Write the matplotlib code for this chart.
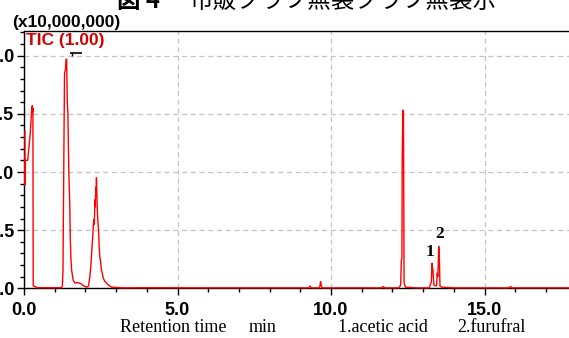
import matplotlib.pyplot as plt
from matplotlib.ticker import MultipleLocator, FixedLocator

# chromatogram trace (time in min, intensity in x10,000,000)
time_min = [0.03, 0.03, 0.035, 0.12, 0.20, 0.25, 0.27, 0.28, 0.29, 0.30, 0.45,
            0.80, 1.22, 1.25, 1.27, 1.28, 1.30, 1.32, 1.35, 1.37, 1.39, 1.41,
            1.43, 1.46, 1.49, 1.51, 1.53, 1.55, 1.60, 1.66, 1.75, 1.85, 1.95,
            2.05, 2.10, 2.14, 2.18, 2.21, 2.24, 2.27, 2.29, 2.31, 2.32, 2.34,
            2.35, 2.36, 2.37, 2.38, 2.39, 2.41, 2.43, 2.45, 2.47, 2.49, 2.52,
            2.55, 2.58, 2.63, 2.70, 2.74, 2.85, 3.20, 4.00, 6.00, 8.00, 9.28,
            9.32, 9.36, 9.63, 9.66, 9.68, 9.71, 11.65, 11.70, 11.75, 12.22,
            12.27, 12.29, 12.31, 12.32, 12.34, 12.36, 12.38, 12.42, 12.80,
            13.20, 13.25, 13.27, 13.29, 13.31, 13.32, 13.35, 13.40, 13.44,
            13.46, 13.48, 13.51, 13.53, 13.55, 13.60, 14.00, 15.80, 15.85,
            15.90, 17.00, 18.00]
intensity = [1.35, 0.89, 1.10, 1.10, 1.32, 1.53, 1.57, 1.52, 1.55, 0.02, 0.005,
             0.005, 0.005, 0.02, 0.15, 0.53, 1.20, 1.85, 1.88, 1.97, 1.97, 1.60,
             1.50, 1.00, 0.73, 0.41, 0.25, 0.16, 0.07, 0.045, 0.05, 0.04, 0.02,
             0.01, 0.02, 0.09, 0.20, 0.33, 0.45, 0.59, 0.55, 0.76, 0.70, 0.87,
             0.80, 0.95, 0.85, 0.76, 0.66, 0.56, 0.50, 0.35, 0.27, 0.24, 0.16,
             0.13, 0.09, 0.06, 0.04, 0.03, 0.01, 0.004, 0.005, 0.004, 0.004, 0.004,
             0.02, 0.004, 0.004, 0.057, 0.03, 0.004, 0.004, 0.015, 0.004, 0.004,
             0.03, 0.24, 0.26, 1.11, 1.53, 1.53, 0.05, 0.01, 0.004,
             0.004, 0.04, 0.06, 0.215, 0.17, 0.16, 0.03, 0.02, 0.025,
             0.13, 0.10, 0.36, 0.26, 0.02, 0.01, 0.004, 0.004, 0.015,
             0.004, 0.004, 0.004]

x_ticks = [0, 5, 10, 15]
x_labels = ["0.0", "5.0", "10.0", "15.0"]
y_ticks = [0.0, 0.5, 1.0, 1.5, 2.0]
y_labels = ["0.0", "0.5", "1.0", "1.5", "2.0"]

peak_names = ["1", "2"]
peak_label_t = [13.22, 13.53]
peak_label_v = [0.31, 0.47]

mark_t = [1.50, 1.88]
mark_v = 2.026

W, H = 569, 338
fig = plt.figure(figsize=(W / 100, H / 100), dpi=100)
ax = fig.add_axes([24 / W, (H - 288.3) / H, 552.6 / W, 257 / H])

ax.plot(time_min, intensity, color="#ff0000", lw=1.0, zorder=3, clip_on=False)
ax.set_xlim(0, 18)
ax.set_ylim(0, 2.21)

ax.xaxis.set_major_locator(FixedLocator(x_ticks))
ax.set_xticklabels(x_labels)
ax.xaxis.set_minor_locator(MultipleLocator(1))
ax.yaxis.set_major_locator(FixedLocator(y_ticks))
ax.set_yticklabels(y_labels)
ax.yaxis.set_minor_locator(MultipleLocator(0.1))

ax.tick_params(which="major", direction="out", length=5, width=1, pad=5,
               labelsize=13)
ax.tick_params(which="minor", direction="out", length=3, width=1)
ax.tick_params(axis="y", which="major", pad=2)
for lab in ax.get_xticklabels() + ax.get_yticklabels():
    lab.set_fontfamily("Liberation Sans")
    lab.set_fontweight("bold")

ax.grid(True, which="major", color="#c4c4c4", linestyle=(0, (4, 3)), lw=0.9)
ax.set_axisbelow(True)
ax.spines["right"].set_visible(False)
for s in ["left", "bottom", "top"]:
    ax.spines[s].set_linewidth(1.0)

for name, pt, pv in zip(peak_names, peak_label_t, peak_label_v):
    ax.text(pt, pv, name, ha="center", va="center", fontsize=12.5,
            fontweight="bold", family="Liberation Serif")

ax.hlines(mark_v, mark_t[0], mark_t[1], color="black", lw=1.2)
ax.vlines(mark_t[0] + 0.07, mark_v - 0.025, mark_v, color="black", lw=1.0)

fig.text(12 / W, 1 - 22 / H, "(x10,000,000)", fontsize=12.5, fontweight="bold",
         family="Liberation Sans", va="center", ha="left")
fig.text(26 / W, 1 - 40 / H, "TIC (1.00)", fontsize=12.5, fontweight="bold",
         family="Liberation Sans", color="#d00000", va="center", ha="left")

fig.text(117 / W, 1 - 8 / H, "図 4", fontsize=17, fontweight="bold",
         family="Noto Sans CJK JP", va="baseline", ha="left")
fig.text(190 / W, 1 - 8 / H, "市販クラフ無袋クラフ無袋示", fontsize=17,
         family="Noto Sans CJK JP", va="baseline", ha="left")

fig.text(120 / W, 1 - 328 / H, "Retention time", fontsize=13,
         family="Liberation Serif", va="center", ha="left")
fig.text(249 / W, 1 - 328 / H, "min", fontsize=13,
         family="Liberation Serif", va="center", ha="left")
fig.text(338 / W, 1 - 328 / H, "1.acetic acid", fontsize=13,
         family="Liberation Serif", va="center", ha="left")
fig.text(457 / W, 1 - 328 / H, "2.furufral", fontsize=13,
         family="Liberation Serif", va="center", ha="left")

fig.savefig("out.png", dpi=100)
